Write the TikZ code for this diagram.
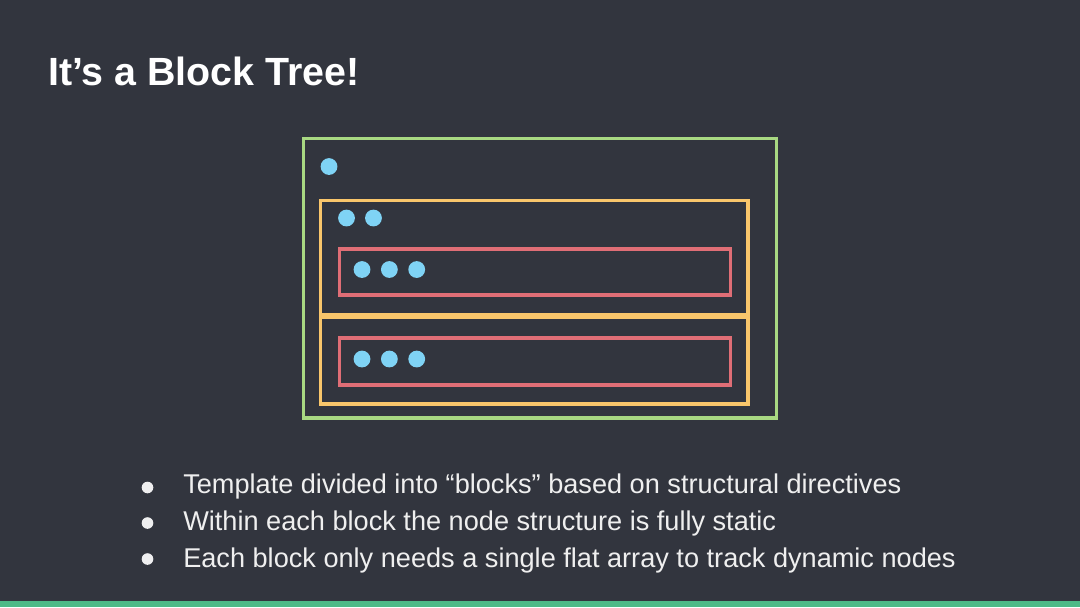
\documentclass[tikz,border=0pt]{standalone}
\usepackage{fontspec}
\setmainfont{Liberation Sans}
\usepackage{xcolor}
\usetikzlibrary{positioning}
\definecolor{bgcol}{RGB}{50,53,62}
\definecolor{barcol}{RGB}{77,186,135}
\definecolor{rootcol}{RGB}{168,216,130}
\definecolor{blockcol}{RGB}{249,198,107}
\definecolor{innercol}{RGB}{224,110,118}
\definecolor{dotcol}{RGB}{127,211,245}

\begin{document}
\begin{tikzpicture}[
    x=0.025cm, y=-0.025cm,
    box/.style={draw=#1, line width=2.7pt},
    slot/.style={circle, fill=dotcol, minimum size=0.42cm, inner sep=0pt},
    bullet/.style={circle, fill=white!92!bgcol, minimum size=0.29cm, inner sep=0pt},
    itemtxt/.style={anchor=base west, text=white!92!bgcol, font=\fontsize{19.3}{22}\selectfont, inner sep=0pt},
]

% ---- Slide ----
\fill[bgcol] (0,0) rectangle (1080,607);
\fill[barcol] (0,601) rectangle (1080,607);
\useasboundingbox (0,0) rectangle (1080,607);

\node[anchor=base west, inner sep=0pt, text=white, font=\fontsize{28}{32}\selectfont\bfseries]
  (title) at (48,85) {It’s a Block Tree!};

% ---- Blocks ----
\draw[box=rootcol]   (303.5,138.5) rectangle (776.5,418);
\draw[box=blockcol]  (320.5,200.5) rectangle (748,314.5);
\draw[box=blockcol]  (320.5,317.5) rectangle (748,404);
\draw[box=innercol]  (339.5,249) rectangle (730.5,295);
\draw[box=innercol]  (339.5,338) rectangle (730.5,385);

% ---- Dynamic nodes ----
\node[slot] (r1) at (329,166.5) {};
\node[slot] (b1) at (346.5,218) {};
\node[slot, right=0.24cm of b1] (b2) {};
\foreach \row/\y in {a/269.5, c/359} {
  \node[slot] (\row1) at (362,\y) {};
  \node[slot, right=0.25cm of \row1] (\row2) {};
  \node[slot, right=0.25cm of \row2] (\row3) {};
}

% ---- Bullets ----
\node[bullet] (d1) at (147.5,487.5) {};
\node[bullet] (d2) at (147.5,523) {};
\node[bullet] (d3) at (147.5,559) {};
\node[itemtxt] (t1) at (183,493) {Template divided into “blocks” based on structural directives};
\node[itemtxt] (t2) at (183,530) {Within each block the node structure is fully static};
\node[itemtxt] (t3) at (183,567) {Each block only needs a single flat array to track dynamic nodes};

\end{tikzpicture}
\end{document}
